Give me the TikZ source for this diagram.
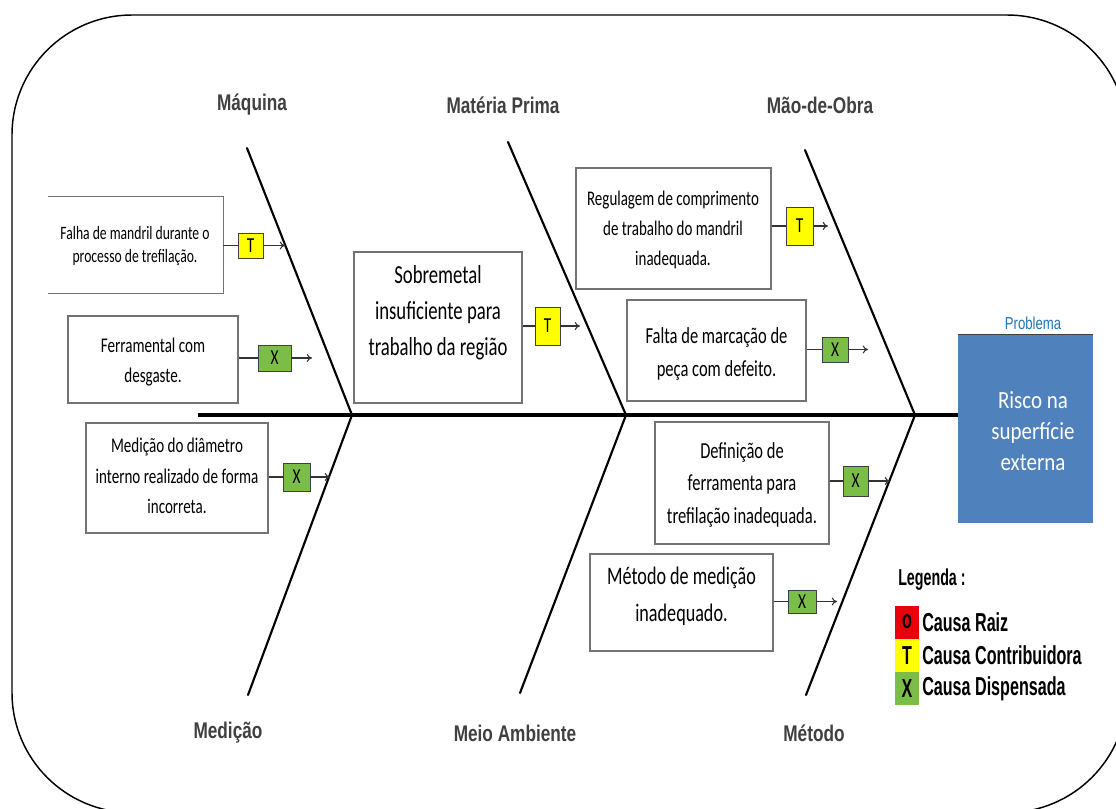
\documentclass[tikz,border=0pt]{standalone}
\usepackage{fontspec}
\usetikzlibrary{arrows.meta}
\newfontfamily\boxfont{Carlito}[FakeStretch=0.72]
\newfontfamily\probfont{Carlito}[FakeStretch=0.85]
\newfontfamily\labfont{Liberation Sans}[FakeStretch=0.76]
\newfontfamily\legfont{Liberation Sans}[FakeStretch=0.62]
\definecolor{mkyellow}{RGB}{255,255,0}
\definecolor{mkgreen}{RGB}{122,190,72}
\definecolor{mkred}{RGB}{232,0,10}
\definecolor{probblue}{RGB}{79,129,189}
\definecolor{labgray}{RGB}{64,64,64}
\definecolor{probtext}{RGB}{31,118,188}
\definecolor{boxgray}{RGB}{115,115,115}
\begin{document}
\begin{tikzpicture}[x=0.75pt,y=-0.75pt,
  cbox/.style={draw=boxgray, line width=0.9pt, fill=white, inner sep=0pt},
  ctext/.style={align=center, text=black, inner sep=0pt},
  mkbase/.style={draw=black!75, line width=0.6pt, inner sep=0pt, text=black,
    font=\boxfont\fontsize{16}{16}\selectfont},
  mkT/.style={mkbase, fill=mkyellow},
  mkX/.style={mkbase, fill=mkgreen},
  bone/.style={line width=1.6pt, line cap=round},
  conn/.style={line width=0.8pt, draw=black!80},
  arr/.style={conn, -{To[length=4pt,width=6pt]}},
  cat/.style={text=labgray, font=\labfont\bfseries\fontsize{17}{18}\selectfont, inner sep=0pt},
  legsq/.style={inner sep=0pt, minimum width=18pt, minimum height=24.75pt,
    font=\legfont\bfseries\fontsize{19.5}{20}\selectfont, text=black},
  legtxt/.style={anchor=west, inner sep=0pt, text=black,
    font=\legfont\bfseries\fontsize{19.5}{20}\selectfont}
]
\useasboundingbox (0,0) rectangle (1116,808);
\fill[white] (0,0) rectangle (1116,808);
% outer frame
\begin{scope}
\clip (0,0) rectangle (1116,808);
\draw[line width=1.1pt, rounded corners=90pt] (12,15) rectangle (1127,812.6);
\end{scope}

% problem
\node[fill=probblue, minimum width=101.25pt, minimum height=141pt, inner sep=0pt] (prob) at (1025.5,429) {};
\draw[line width=1pt, black!75] (prob.north west) -- (prob.north east);
\node[text=white, align=center, inner sep=0pt, font=\probfont\fontsize{18.5}{23.25}\selectfont] (probt) at (1033,431) {Risco na\\superfície\\externa};
\node[text=probtext, inner sep=0pt, font=\labfont\fontsize{13}{14}\selectfont] (probl) at (1033,323) {Problema};

% spine and bones
\coordinate (sp0) at (198,415);
\coordinate (j1) at (352,415);
\coordinate (j2) at (626,415);
\coordinate (j3) at (915,415);
\coordinate (u1) at (247,148);
\coordinate (u2) at (508,142);
\coordinate (u3) at (805,150);
\coordinate (d1) at (248,695);
\coordinate (d2) at (520,693);
\coordinate (d3) at (806,695);
\draw[line width=2.3pt] (sp0) -- (sp0 -| prob.west);
\draw[bone] (u1) -- (j1) -- (d1);
\draw[bone] (u2) -- (j2) -- (d2);
\draw[bone] (u3) -- (j3) -- (d3);

% category labels
\node[cat] (cMaq) at (252,105) {Máquina};
\node[cat] (cMat) at (503,105) {Matéria Prima};
\node[cat] (cMao) at (820,105) {Mão-de-Obra};
\node[cat] (cMed) at (228,733) {Medição};
\node[cat] (cMei) at (515,733) {Meio Ambiente};
\node[cat] (cMet) at (814,733) {Método};

% cause boxes
\node[minimum width=131.25pt, minimum height=72pt, inner sep=0pt] (b1) at (135.5,245) {};
\draw[boxgray, line width=0.9pt] (b1.north west) -- (b1.north east) -- (b1.south east) -- (b1.south west);
\node[ctext, font=\boxfont\fontsize{14.2}{17.25}\selectfont] (t1) at (135,246.5) {Falha de mandril durante o\\processo de trefilação.};

\node[cbox, minimum width=127.5pt, minimum height=65.25pt] (b2) at (153,359.5) {};
\node[ctext, font=\boxfont\fontsize{15.7}{22.5}\selectfont] (t2) at (153,362) {Ferramental com\\desgaste.};

\node[cbox, minimum width=136.5pt, minimum height=82.5pt] (b3) at (177,478) {};
\node[ctext, font=\boxfont\fontsize{15.7}{22.9}\selectfont] (t3) at (177,476) {Medição do diâmetro\\interno realizado de forma\\incorreta.};

\node[cbox, minimum width=126pt, minimum height=113.25pt] (b4) at (438,327.5) {};
\node[ctext, font=\boxfont\fontsize{19.5}{27}\selectfont] (t4) at (438,312.5) {Sobremetal\\insuficiente para\\trabalho da região};

\node[cbox, minimum width=146.25pt, minimum height=90.75pt] (b5) at (673.5,228.5) {};
\node[ctext, font=\boxfont\fontsize{15.6}{22.5}\selectfont] (t5) at (673,230) {Regulagem de comprimento\\de trabalho do mandril\\inadequada.};

\node[cbox, minimum width=134.25pt, minimum height=75.75pt] (b6) at (716.5,350.5) {};
\node[ctext, font=\boxfont\fontsize{17.2}{24.75}\selectfont] (t6) at (716.5,353.5) {Falta de marcação de\\peça com defeito.};

\node[cbox, minimum width=130.5pt, minimum height=91.5pt] (b7) at (742,483) {};
\node[ctext, font=\boxfont\fontsize{17.2}{24.4}\selectfont] (t7) at (742,484.5) {Definição de\\ferramenta para\\trefilação inadequada.};

\node[cbox, minimum width=137.25pt, minimum height=72.75pt] (b8) at (681.5,602.5) {};
\node[ctext, font=\boxfont\fontsize{18.9}{27.75}\selectfont] (t8) at (681.5,596.5) {Método de medição\\inadequado.};

% markers
\node[mkT, minimum width=18.75pt, minimum height=18.75pt] (m1) at (250.5,245.5) {T};
\node[mkX, minimum width=24.75pt, minimum height=19.5pt] (m2) at (274.5,358) {X};
\node[mkX, minimum width=20.25pt, minimum height=21pt] (m3) at (296.5,477) {X};
\node[mkT, minimum width=18.75pt, minimum height=28.5pt] (m4) at (547.5,326) {T};
\node[mkT, minimum width=20.25pt, minimum height=28.5pt] (m5) at (799.5,226) {T};
\node[mkX, minimum width=19.5pt, minimum height=18.75pt] (m6) at (835,349.5) {X};
\node[mkX, minimum width=18.75pt, minimum height=22.5pt] (m7) at (855.5,481) {X};
\node[mkX, minimum width=21pt, minimum height=17.25pt] (m8) at (802,601.5) {X};

% arrow end points on the bones
\coordinate (a1) at (285,245.5);
\coordinate (a2) at (312,358);
\coordinate (a3) at (330,477);
\coordinate (a4) at (580,326);
\coordinate (a5) at (828,226);
\coordinate (a6) at (868,349.5);
\coordinate (a7) at (890,481);
\coordinate (a8) at (837,601.5);

\foreach \i in {1,...,8} {
  \draw[conn] (m\i.west -| b\i.east) -- (m\i.west);
  \draw[arr] (m\i.east) -- (a\i);
}

% legend
\node[anchor=west, inner sep=0pt, text=black, font=\legfont\bfseries\fontsize{17.25}{18}\selectfont] (legT) at (898,580) {Legenda :};
\node[legsq, fill=mkred] (lr) at (907,622) {o};
\node[legsq, fill=mkyellow] (ly) at (907,655.5) {T};
\node[legsq, fill=mkgreen] (lg) at (907,688.5) {X};
\node[legtxt] (lrt) at (922,622) {Causa Raiz};
\node[legtxt] (lyt) at (922,655.5) {Causa Contribuidora};
\node[legtxt] (lgt) at (922,688.5) {Causa Dispensada};
\end{tikzpicture}
\end{document}
